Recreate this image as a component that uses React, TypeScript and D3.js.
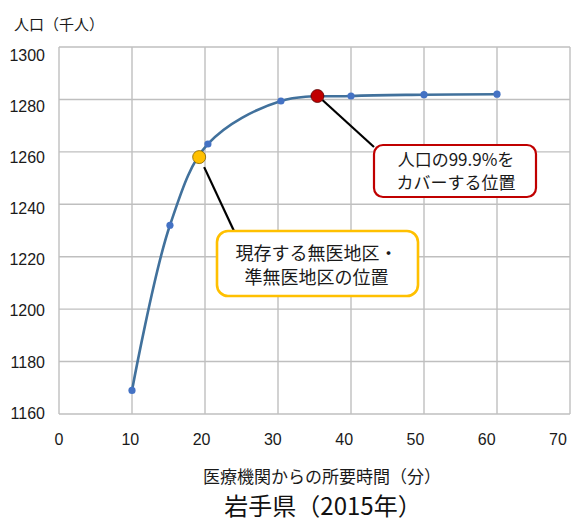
import React from "react";
import * as d3 from "d3";

const xVals = [10, 15.2, 20.4, 30.4, 40, 50, 60];
const yVals = [1169, 1232, 1263, 1279.4, 1281.3, 1281.8, 1282];
const xTicks = [0, 10, 20, 30, 40, 50, 60, 70];
const yTicks = [1160, 1180, 1200, 1220, 1240, 1260, 1280, 1300];
const yellowPt = { x: 19.2, y: 1258 };
const redPt = { x: 35.4, y: 1281.3 };
const yTitle = "人口（千人）";
const xTitle = "医療機関からの所要時間（分）";
const chartTitle = "岩手県（2015年）";
const redText = ["人口の99.9%を", "カバーする位置"];
const yellowText = ["現存する無医地区・", "準無医地区の位置"];

const W = 572, H = 522;
const L = 59, R = 570, T = 47, B = 414;
const FONT = "'Noto Sans CJK JP', 'Noto Sans', sans-serif";
const NUMFONT = "'Liberation Sans', Arial, sans-serif";

export default function App() {
  const x = d3.scaleLinear().domain([0, 70]).range([L, R]);
  const y = d3.scaleLinear().domain([1160, 1300]).range([B, T]);
  // tick label placement (labels drift slightly from the gridlines in the reference)
  const xl = d3.scaleLinear().domain([0, 70]).range([59, 558]);
  const yl = d3.scaleLinear().domain([1160, 1300]).range([413, 55]);
  const pts: [number, number][] = xVals.map((v, i) => [v, yVals[i]]);
  const line = d3
    .line<[number, number]>()
    .x((d) => x(d[0]))
    .y((d) => y(d[1]))
    .curve(d3.curveCatmullRom.alpha(0.5));

  const rx0 = 374, ry0 = 145, rw = 162, rh = 52;
  const yx0 = 217, yy0 = 231, yw = 201, yh = 65;

  return (
    <svg width={W} height={H} style={{ position: "absolute", left: 0, top: 0, background: "#fff" }} fontFamily={FONT}>
      <rect width={W} height={H} fill="#fff" />
      {xTicks.map((t) => (
        <line key={"gx" + t} x1={x(t)} x2={x(t)} y1={T} y2={B} stroke="#BFBFBF" strokeWidth={1.4} />
      ))}
      {yTicks.map((t) => (
        <line key={"gy" + t} x1={L} x2={R} y1={y(t)} y2={y(t)} stroke="#BFBFBF" strokeWidth={1.4} />
      ))}
      {yTicks.map((t) => (
        <text key={"ty" + t} x={45} y={yl(t) + 5.7} textAnchor="end" fontSize={16} fill="#1a1a1a" fontFamily={NUMFONT}>
          {t}
        </text>
      ))}
      {xTicks.map((t) => (
        <text key={"tx" + t} x={xl(t)} y={445} textAnchor="middle" fontSize={16} fill="#1a1a1a" fontFamily={NUMFONT}>
          {t}
        </text>
      ))}
      <text x={14} y={30} fontSize={15} fill="#1a1a1a">{yTitle}</text>
      <text x={322} y={483} textAnchor="middle" fontSize={17} fill="#1a1a1a">{xTitle}</text>
      <text x={323} y={515} textAnchor="middle" fontSize={24} fill="#111">{chartTitle}</text>

      <path d={line(pts) || ""} fill="none" stroke="#41719C" strokeWidth={2.6} />
      {pts.map((p, i) => (
        <circle key={"p" + i} cx={x(p[0])} cy={y(p[1])} r={3.6} fill="#4472C4" />
      ))}

      <line x1={x(redPt.x) + 5} y1={y(redPt.y) + 4} x2={rx0} y2={ry0 + 2} stroke="#000" strokeWidth={2.2} />
      <line x1={x(yellowPt.x) + 5} y1={y(yellowPt.y) + 10} x2={yx0 + 17} y2={yy0} stroke="#000" strokeWidth={2.2} />

      <circle cx={x(yellowPt.x)} cy={y(yellowPt.y)} r={6.5} fill="#FFC000" stroke="#7F6000" strokeWidth={0.8} />
      <circle cx={x(redPt.x)} cy={y(redPt.y)} r={6.5} fill="#C00000" stroke="#5a0000" strokeWidth={0.8} />

      <rect x={rx0} y={ry0} width={rw} height={rh} rx={9} fill="#fff" stroke="#C00000" strokeWidth={2.2} />
      {redText.map((s, i) => (
        <text key={"r" + i} x={rx0 + rw / 2 + 1} y={ry0 + 21 + i * 23} textAnchor="middle" fontSize={17} fill="#1a1a1a">
          {s}
        </text>
      ))}
      <rect x={yx0} y={yy0} width={yw} height={yh} rx={11} fill="#fff" stroke="#FFC000" strokeWidth={2.6} />
      {yellowText.map((s, i) => (
        <text key={"y" + i} x={yx0 + yw / 2 - 1} y={yy0 + 28.5 + i * 24} textAnchor="middle" fontSize={18} fill="#1a1a1a">
          {s}
        </text>
      ))}
    </svg>
  );
}
